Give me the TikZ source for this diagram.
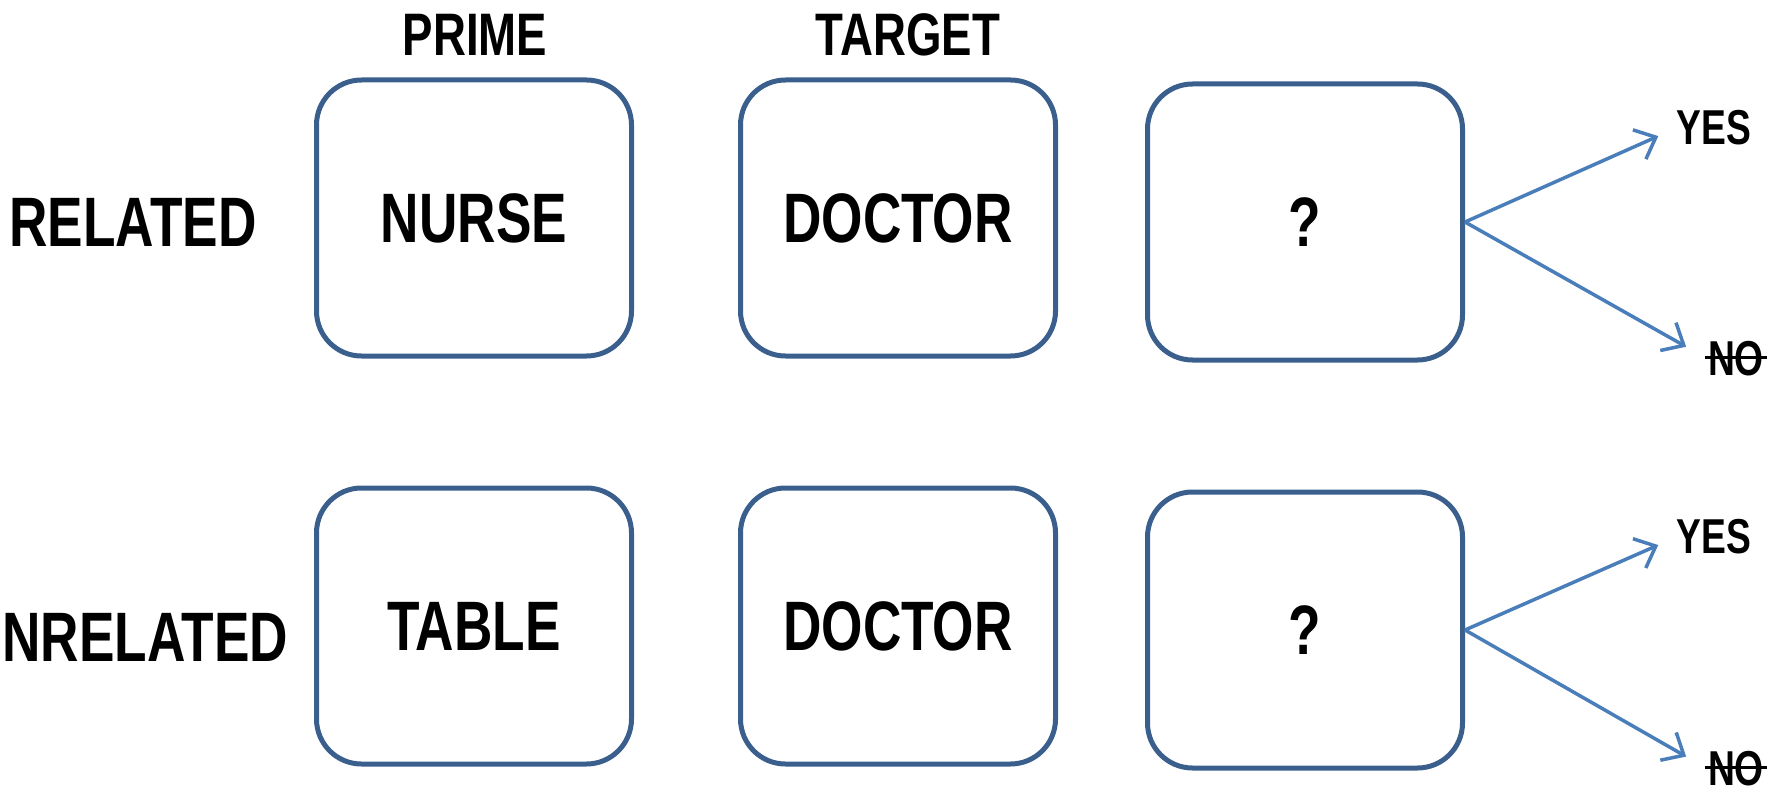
\documentclass[tikz,border=0pt]{standalone}
\usepackage{fontspec}
\setmainfont{Liberation Sans}[FakeStretch=0.76]
\usetikzlibrary{arrows.meta}
\definecolor{boxblue}{RGB}{59,95,141}
\definecolor{arrowblue}{RGB}{74,126,187}
\newcommand{\struck}[1]{\setbox0\hbox{#1}\rlap{\kern-3pt\rule[0.34em]{\dimexpr\wd0+6pt\relax}{3pt}}\box0}

\begin{document}
\begin{tikzpicture}[x=1pt, y=-1pt,
   card/.style={draw=boxblue, line width=5pt, rounded corners=45pt,
                minimum width=315pt, minimum height=276pt,
                font=\fontsize{70}{80}\selectfont\bfseries},
   rowname/.style={font=\fontsize{70}{80}\selectfont\bfseries},
   heading/.style={font=\fontsize{60}{66}\selectfont\bfseries},
   answer/.style={inner sep=0pt, font=\fontsize{49}{56}\selectfont\bfseries},
   choice/.style={draw=arrowblue, line width=3.5pt,
                  -{Straight Barb[length=18pt,width=32pt]}, shorten >=20pt}]

\useasboundingbox (0,0) rectangle (1782,786);

\node[heading] (prime) at (475,35) {PRIME};
\node[heading] (target) at (908,35) {TARGET};

% related pair
\node[rowname] (rel) at (133,222) {RELATED};
\node[card] (prime1) at (474,218) {NURSE};
\node[card] (target1) at (898,218) {DOCTOR};
\node[card] (probe1) at (1305,222) {?};
\node[answer] (yes1) at (1714,128) {YES};
\node[answer] (no1) at (1736,359) {\struck{NO}};
\draw[choice] (probe1.east) -- (yes1.west);
\draw[choice, shorten >=25pt] (probe1.east) -- (no1.west);

% unrelated pair
\node[rowname] (unrel) at (126,638) {UNRELATED};
\node[card] (prime2) at (474,626) {TABLE};
\node[card] (target2) at (898,626) {DOCTOR};
\node[card] (probe2) at (1305,630) {?};
\node[answer] (yes2) at (1714,537) {YES};
\node[answer] (no2) at (1736,769) {\struck{NO}};
\draw[choice] (probe2.east) -- (yes2.west);
\draw[choice, shorten >=25pt] (probe2.east) -- (no2.west);

\end{tikzpicture}
\end{document}
